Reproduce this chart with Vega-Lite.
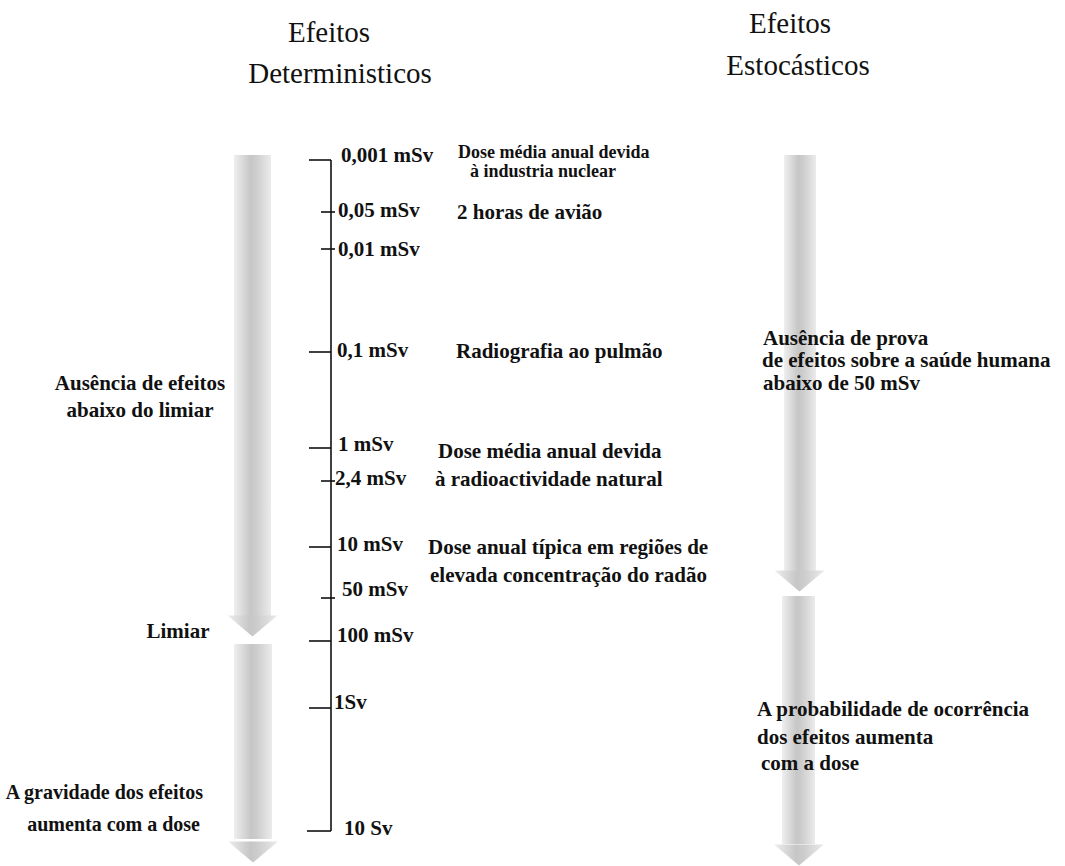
{
  "$schema": "https://vega.github.io/schema/vega-lite/v6.json",
  "width": 1065,
  "height": 866,
  "autosize": {"type": "fit", "contains": "padding"},
  "padding": 0,
  "background": "white",
  "config": {"view": {"stroke": null}},
  "datasets": {
    "bodies": [
      {"arrow": "L1", "x": 234, "x2": 271, "y": 155, "y2": 616},
      {"arrow": "L2", "x": 234, "x2": 272, "y": 644, "y2": 839},
      {"arrow": "R1", "x": 784, "x2": 816, "y": 155, "y2": 571},
      {"arrow": "R2", "x": 782, "x2": 815, "y": 596, "y2": 844}
    ],
    "heads": [
      {"arrow": "L1", "x": 252.5, "y": 626},
      {"arrow": "L2", "x": 253, "y": 852},
      {"arrow": "R1", "x": 799.5, "y": 581},
      {"arrow": "R2", "x": 799, "y": 855}
    ],
    "segments": [
      {"seg": "axis", "x": 331, "x2": 331, "y": 160, "y2": 831},
      {"seg": "0,001 mSv", "x": 309, "x2": 331, "y": 160, "y2": 160},
      {"seg": "0,05 mSv", "x": 321, "x2": 335, "y": 212, "y2": 212},
      {"seg": "0,01 mSv", "x": 321, "x2": 335, "y": 249, "y2": 249},
      {"seg": "0,1 mSv", "x": 309, "x2": 331, "y": 352, "y2": 352},
      {"seg": "1 mSv", "x": 309, "x2": 331, "y": 448, "y2": 448},
      {"seg": "2,4 mSv", "x": 321, "x2": 335, "y": 481, "y2": 481},
      {"seg": "10 mSv", "x": 309, "x2": 331, "y": 547, "y2": 547},
      {"seg": "50 mSv", "x": 321, "x2": 335, "y": 598, "y2": 598},
      {"seg": "100 mSv", "x": 309, "x2": 331, "y": 641, "y2": 641},
      {"seg": "1 Sv", "x": 309, "x2": 331, "y": 708, "y2": 708},
      {"seg": "10 Sv", "x": 307, "x2": 331, "y": 831, "y2": 831}
    ],
    "titles": [
      {"label": "Efeitos", "x": 329, "y": 33},
      {"label": "Deterministicos", "x": 340, "y": 74},
      {"label": "Efeitos", "x": 790, "y": 24},
      {"label": "Estocásticos", "x": 798, "y": 66}
    ],
    "scaleLabels": [
      {"label": "0,001 mSv", "x": 341, "y": 156},
      {"label": "0,05 mSv", "x": 338, "y": 211},
      {"label": "0,01 mSv", "x": 338, "y": 250},
      {"label": "0,1 mSv", "x": 337, "y": 351},
      {"label": "1 mSv", "x": 338, "y": 445},
      {"label": "2,4 mSv", "x": 335, "y": 479},
      {"label": "10 mSv", "x": 337, "y": 545},
      {"label": "50 mSv", "x": 342, "y": 590},
      {"label": "100 mSv", "x": 337, "y": 636},
      {"label": "1Sv", "x": 334, "y": 703},
      {"label": "10 Sv", "x": 344, "y": 829}
    ],
    "notes": [
      {"label": "2 horas de avião", "x": 457, "y": 213},
      {"label": "Radiografia ao pulmão", "x": 456, "y": 352},
      {"label": "Dose média anual devida", "x": 438, "y": 452},
      {"label": "à radioactividade natural", "x": 435, "y": 480},
      {"label": "Dose anual típica em regiões de", "x": 428, "y": 548},
      {"label": "elevada concentração do radão", "x": 430, "y": 576}
    ],
    "tightNotes": [
      {"label": "Dose média anual devida", "x": 458, "y": 153},
      {"label": "à industria nuclear", "x": 470, "y": 172}
    ],
    "leftCenter": [
      {"label": "Ausência de efeitos", "x": 140, "y": 384},
      {"label": "abaixo do limiar", "x": 140, "y": 411},
      {"label": "Limiar", "x": 178, "y": 632}
    ],
    "leftRight": [
      {"label": "A gravidade dos efeitos", "x": 203, "y": 793},
      {"label": "aumenta com a dose", "x": 200, "y": 825}
    ],
    "rightLeft": [
      {"label": "Ausência de prova", "x": 763, "y": 339},
      {"label": "de efeitos sobre a saúde humana", "x": 762, "y": 361},
      {"label": "abaixo de 50 mSv", "x": 763, "y": 384},
      {"label": "A probabilidade de ocorrência", "x": 757, "y": 710},
      {"label": "dos efeitos aumenta", "x": 757, "y": 738},
      {"label": "com a dose", "x": 761, "y": 764}
    ]
  },
  "encoding": {
    "x": {"field": "x", "type": "quantitative", "scale": {"domain": [0, 1065], "nice": false, "zero": false}, "axis": null},
    "y": {"field": "y", "type": "quantitative", "scale": {"domain": [0, 866], "nice": false, "zero": false, "reverse": true}, "axis": null}
  },
  "layer": [
    {
      "data": {"name": "bodies"},
      "mark": {
        "type": "rect",
        "fill": {
          "gradient": "linear",
          "x1": 0, "y1": 0, "x2": 1, "y2": 0,
          "stops": [
            {"offset": 0, "color": "#efefef"},
            {"offset": 0.45, "color": "#c6c6c6"},
            {"offset": 0.6, "color": "#cdcdcd"},
            {"offset": 1, "color": "#ebebeb"}
          ]
        }
      },
      "encoding": {
        "x2": {"field": "x2"},
        "y2": {"field": "y2"}
      }
    },
    {
      "data": {"name": "heads"},
      "mark": {
        "type": "point",
        "filled": true,
        "shape": "M-1,-0.42L1,-0.42L0,0.42Z",
        "size": 2500,
        "opacity": 1,
        "strokeWidth": 0,
        "fill": {
          "gradient": "linear",
          "x1": 0, "y1": 0, "x2": 1, "y2": 0,
          "stops": [
            {"offset": 0, "color": "#efefef"},
            {"offset": 0.45, "color": "#c6c6c6"},
            {"offset": 0.6, "color": "#cdcdcd"},
            {"offset": 1, "color": "#ebebeb"}
          ]
        }
      },
      "encoding": {}
    },
    {
      "data": {"name": "segments"},
      "mark": {"type": "rule", "color": "#111111", "strokeWidth": 1.6},
      "encoding": {
        "x2": {"field": "x2"},
        "y2": {"field": "y2"}
      }
    },
    {
      "data": {"name": "titles"},
      "mark": {"type": "text", "font": "Liberation Serif", "fontSize": 29, "align": "center", "baseline": "middle", "color": "#111111"},
      "encoding": {"text": {"field": "label"}}
    },
    {
      "data": {"name": "scaleLabels"},
      "mark": {"type": "text", "font": "Liberation Serif", "fontSize": 21, "fontWeight": "bold", "align": "left", "baseline": "middle", "color": "#111111"},
      "encoding": {"text": {"field": "label"}}
    },
    {
      "data": {"name": "notes"},
      "mark": {"type": "text", "font": "Liberation Serif", "fontSize": 21, "fontWeight": "bold", "align": "left", "baseline": "middle", "color": "#111111"},
      "encoding": {"text": {"field": "label"}}
    },
    {
      "data": {"name": "tightNotes"},
      "mark": {"type": "text", "font": "Liberation Serif", "fontSize": 18, "fontWeight": "bold", "align": "left", "baseline": "middle", "color": "#111111"},
      "encoding": {"text": {"field": "label"}}
    },
    {
      "data": {"name": "leftCenter"},
      "mark": {"type": "text", "font": "Liberation Serif", "fontSize": 21, "fontWeight": "bold", "align": "center", "baseline": "middle", "color": "#111111"},
      "encoding": {"text": {"field": "label"}}
    },
    {
      "data": {"name": "leftRight"},
      "mark": {"type": "text", "font": "Liberation Serif", "fontSize": 20, "fontWeight": "bold", "align": "right", "baseline": "middle", "color": "#111111"},
      "encoding": {"text": {"field": "label"}}
    },
    {
      "data": {"name": "rightLeft"},
      "mark": {"type": "text", "font": "Liberation Serif", "fontSize": 21, "fontWeight": "bold", "align": "left", "baseline": "middle", "color": "#111111"},
      "encoding": {"text": {"field": "label"}}
    }
  ]
}
